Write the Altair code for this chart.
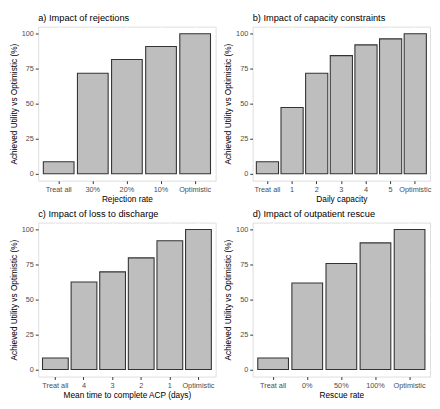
import altair as alt
import pandas as pd

FONT = "Liberation Sans"

cats_a = ["Treat all", "30%", "20%", "10%", "Optimistic"]
vals_a = [8.5, 71.7, 81.5, 90.8, 100]

cats_b = ["Treat all", "1", "2", "3", "4", "5", "Optimistic"]
vals_b = [8.5, 47.3, 71.7, 84.3, 92.0, 96.3, 100]

cats_c = ["Treat all", "4", "3", "2", "1", "Optimistic"]
vals_c = [8.3, 62.5, 69.8, 79.8, 92.0, 100]

cats_d = ["Treat all", "0%", "50%", "100%", "Optimistic"]
vals_d = [8.3, 61.8, 75.8, 90.5, 100]

titles = ["a) Impact of rejections", "b) Impact of capacity constraints",
          "c) Impact of loss to discharge", "d) Impact of outpatient rescue"]
xtitles = ["Rejection rate", "Daily capacity", "Mean time to complete ACP (days)", "Rescue rate"]
ytitle = "Achieved Utility vs Optimistic (%)"
yticks = [0, 25, 50, 75, 100]

W, H = 182, 158


def panel(cats, vals, title, xtitle):
    df = pd.DataFrame({"cat": cats, "val": vals})
    return alt.Chart(df).mark_bar(
        fill="#BEBEBE", stroke="#333333", strokeWidth=1.1
    ).encode(
        x=alt.X("cat:N", sort=cats, title=xtitle,
                scale=alt.Scale(paddingInner=0.1, paddingOuter=0.15),
                axis=alt.Axis(labelAngle=0, domain=False, tickColor="#333333",
                              tickSize=3, labelFontSize=7.5, labelColor="#4D4D4D",
                              labelPadding=2, titleFontSize=8.5, titleColor="black",
                              titleFontWeight="normal", titlePadding=2,
                              grid=True, gridColor="white", gridWidth=1,
                              bandPosition=0.5, labelFont=FONT, titleFont=FONT)),
        y=alt.Y("val:Q", title=ytitle,
                scale=alt.Scale(domain=[-5, 105], nice=False, zero=False),
                axis=alt.Axis(values=yticks, domain=False, tickColor="#333333",
                              tickSize=3, labelFontSize=7.5, labelColor="#4D4D4D",
                              labelPadding=2, titleFontSize=8.5, titleColor="black",
                              titleFontWeight="normal", titlePadding=3,
                              grid=True, gridColor="white", gridWidth=1,
                              labelFont=FONT, titleFont=FONT)),
        y2=alt.datum(0),
    ).properties(
        width=W, height=H,
        title=alt.TitleParams(title, anchor="start", frame="group", fontSize=9.5,
                              fontWeight="normal", color="black", offset=4, font=FONT),
    )


pa = panel(cats_a, vals_a, titles[0], xtitles[0])
pb = panel(cats_b, vals_b, titles[1], xtitles[1])
pc = panel(cats_c, vals_c, titles[2], xtitles[2])
pd_ = panel(cats_d, vals_d, titles[3], xtitles[3])

chart = alt.vconcat(
    alt.hconcat(pa, pb, spacing=6),
    alt.hconcat(pc, pd_, spacing=6),
    spacing=5,
).properties(
    padding=0, background="white"
).configure_view(
    fill="#EBEBEB", stroke=None
).configure(font=FONT)

chart.save("out.html", embed_options={"renderer": "svg", "actions": False})
